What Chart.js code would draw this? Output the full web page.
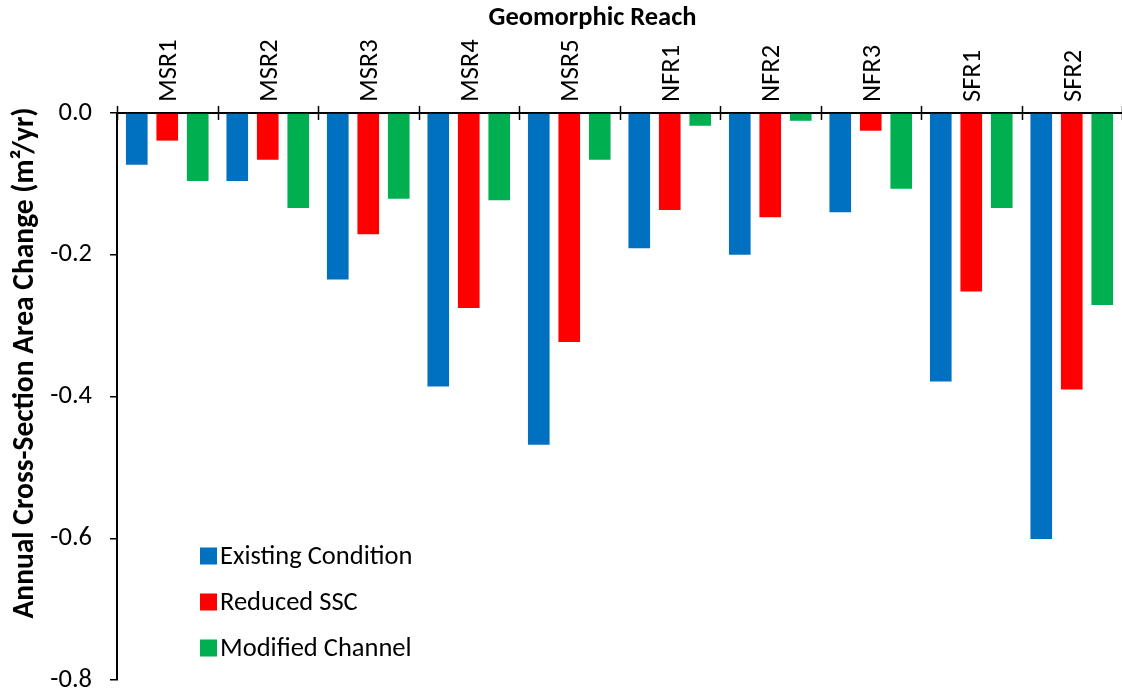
<!DOCTYPE html>
<html>
<head>
  <meta charset="UTF-8">
  <title>Annual Cross-Section Area Change by Geomorphic Reach</title>
  <script src="https://cdn.jsdelivr.net/npm/chart.js"></script>
  <style>
    body {
      margin: 0;
      padding: 0;
      background: #fff;
    }
    #chart-container {
      width: 1122px;
      height: 694px;
    }
  </style>
</head>
<body>
  <div id="chart-container">
    <canvas id="reachChart"></canvas>
  </div>
  <script>
    const reaches = ['MSR1', 'MSR2', 'MSR3', 'MSR4', 'MSR5', 'NFR1', 'NFR2', 'NFR3', 'SFR1', 'SFR2'];
    const existingCondition = [-0.073, -0.096, -0.235, -0.386, -0.468, -0.191, -0.200, -0.140, -0.379, -0.601];
    const reducedSSC = [-0.039, -0.066, -0.171, -0.275, -0.323, -0.137, -0.147, -0.025, -0.252, -0.390];
    const modifiedChannel = [-0.096, -0.134, -0.121, -0.123, -0.066, -0.018, -0.011, -0.107, -0.134, -0.271];
    const yTicks = [0, -0.2, -0.4, -0.6, -0.8];

    const FONT = "Carlito, Lato, 'Noto Sans', sans-serif";
    const TEXT_SIZE = 26.5;
    const Y_TITLE_SIZE = 29.5;
    const INK = '#000';

    // tick marks straddling the top axis at the category boundaries
    const crossTicks = {
      id: 'crossTicks',
      afterDraw(chart) {
        const x = chart.scales.x;
        const ctx = chart.ctx;
        const y = chart.chartArea.top;
        ctx.save();
        ctx.strokeStyle = INK;
        ctx.lineWidth = 1.5;
        for (let i = 0; i <= reaches.length; i++) {
          const px = Math.round(x.getPixelForValue(i - 0.5)) + 0.5;
          ctx.beginPath();
          ctx.moveTo(px, y - 7);
          ctx.lineTo(px, y + 7);
          ctx.stroke();
        }
        ctx.restore();
      }
    };

    // axis captions
    const captions = {
      id: 'captions',
      afterDraw(chart) {
        const ctx = chart.ctx;
        const area = chart.chartArea;
        ctx.save();
        ctx.fillStyle = INK;
        ctx.textAlign = 'center';
        ctx.textBaseline = 'alphabetic';
        ctx.font = 'bold ' + TEXT_SIZE + 'px ' + FONT;
        ctx.fillText('Geomorphic Reach', (area.left + area.right) / 2 - 27, 25);
        ctx.font = 'bold ' + Y_TITLE_SIZE + 'px ' + FONT;
        ctx.translate(33, (area.top + area.bottom) / 2 - 33.5);
        ctx.rotate(-Math.PI / 2);
        ctx.fillText('Annual Cross-Section Area Change (m\u00B2/yr)', 0, 0);
        ctx.restore();
      }
    };

    // legend stacked in the lower left of the plot
    const insetLegend = {
      id: 'insetLegend',
      afterDraw(chart) {
        const ctx = chart.ctx;
        const area = chart.chartArea;
        const sets = chart.data.datasets;
        const box = 17;
        const rowGap = 46;
        const x = area.left + 83;
        ctx.save();
        ctx.font = TEXT_SIZE + 'px ' + FONT;
        ctx.textAlign = 'left';
        ctx.textBaseline = 'alphabetic';
        sets.forEach((ds, i) => {
          const cy = area.bottom - 32 - (sets.length - 1 - i) * rowGap;
          ctx.fillStyle = ds.backgroundColor;
          ctx.fillRect(x, cy - box / 2, box, box);
          ctx.fillStyle = INK;
          ctx.fillText(ds.label, x + box + 3, cy + 8);
        });
        ctx.restore();
      }
    };

    const ctx = document.getElementById('reachChart').getContext('2d');
    new Chart(ctx, {
      type: 'bar',
      data: {
        labels: reaches,
        datasets: [
          { label: 'Existing Condition', data: existingCondition, backgroundColor: '#0070C0' },
          { label: 'Reduced SSC', data: reducedSSC, backgroundColor: '#FF0000' },
          { label: 'Modified Channel', data: modifiedChannel, backgroundColor: '#00B050' }
        ]
      },
      options: {
        responsive: true,
        maintainAspectRatio: false,
        animation: false,
        datasets: {
          bar: {
            categoryPercentage: 0.91,
            barPercentage: 0.71
          }
        },
        layout: {
          padding: { left: 0, top: 0, right: 0, bottom: 14 }
        },
        plugins: {
          legend: { display: false },
          tooltip: { enabled: false }
        },
        scales: {
          x: {
            position: 'top',
            offset: true,
            afterFit(scale) {
              scale.height = 113;
              scale.paddingLeft = 0;
              scale.paddingRight = 0;
            },
            grid: { display: false, drawTicks: false },
            border: { display: true, color: INK, width: 2 },
            ticks: {
              autoSkip: false,
              minRotation: 90,
              maxRotation: 90,
              padding: 11,
              labelOffset: Math.round(TEXT_SIZE * 1.2) + 2,
              color: INK,
              font: { family: FONT, size: TEXT_SIZE, lineHeight: 1.2 }
            }
          },
          y: {
            min: -0.8,
            max: 0,
            afterFit(scale) {
              scale.width = 117;
              scale.paddingTop = 0;
              scale.paddingBottom = 0;
            },
            afterBuildTicks(scale) {
              scale.ticks = yTicks.map(v => ({ value: v }));
            },
            grid: {
              display: true,
              drawOnChartArea: false,
              drawTicks: true,
              tickLength: 7,
              color: INK,
              lineWidth: 1.5
            },
            border: { display: true, color: INK, width: 2 },
            ticks: {
              padding: 18,
              color: INK,
              font: { family: FONT, size: TEXT_SIZE },
              callback: v => v.toFixed(1)
            }
          }
        }
      },
      plugins: [crossTicks, captions, insetLegend]
    });
  </script>
</body>
</html>
